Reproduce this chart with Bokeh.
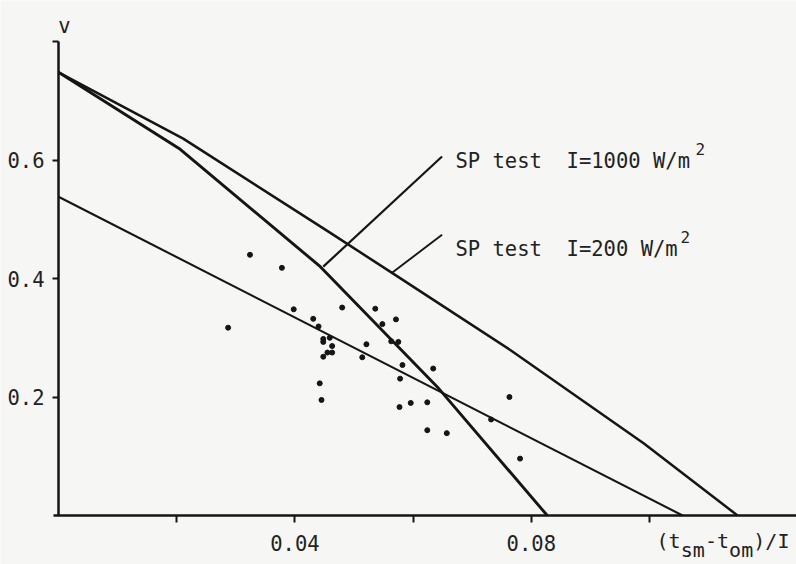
from bokeh.plotting import figure
from bokeh.models import Range1d, FixedTicker, Label
from bokeh.embed import file_html
from bokeh.resources import INLINE

# ---------------- data ----------------
# SP test I=1000 W/m2 curve
sp1000_x = [0.0, 0.0206, 0.0443, 0.0641, 0.0827]
sp1000_y = [0.748, 0.618, 0.420, 0.217, 0.0]
# SP test I=200 W/m2 curve
sp200_x = [0.0, 0.0211, 0.0460, 0.0565, 0.0765, 0.0990, 0.1149]
sp200_y = [0.748, 0.636, 0.477, 0.409, 0.279, 0.122, 0.0]
# fitted line through measured points
fit_x = [0.0, 0.1056]
fit_y = [0.538, 0.0]
# measured points
pts_x = [0.0324, 0.0378, 0.0398, 0.0431, 0.0440, 0.0287, 0.0480, 0.0448, 0.0448,
         0.0459, 0.0463, 0.0455, 0.0463, 0.0448, 0.0442, 0.0445, 0.0536, 0.0571,
         0.0548, 0.0521, 0.0563, 0.0575, 0.0514, 0.0582, 0.0634, 0.0578, 0.0577,
         0.0596, 0.0624, 0.0624, 0.0657, 0.0763, 0.0732, 0.0781]
pts_y = [0.440, 0.418, 0.348, 0.332, 0.319, 0.317, 0.351, 0.298, 0.293,
         0.300, 0.286, 0.275, 0.275, 0.268, 0.223, 0.195, 0.349, 0.331,
         0.323, 0.289, 0.294, 0.293, 0.267, 0.254, 0.248, 0.231, 0.183,
         0.190, 0.191, 0.144, 0.139, 0.200, 0.162, 0.096]
# leader lines of the annotations
lead1000_x = [0.0448, 0.0649]
lead1000_y = [0.420, 0.606]
lead200_x = [0.0565, 0.0649]
lead200_y = [0.410, 0.474]

x_major = [0.04, 0.08]
x_minor = [0.02, 0.06, 0.10]
y_major = [0.2, 0.4, 0.6]
y_minor = [0.8]

NB = "\u00a0"
label1000 = "SP test" + NB + NB + "I=1000 W/m"
label200 = "SP test" + NB + NB + "I=200 W/m"
sup = "2"
ylabel = "v"
xlabel_parts = ["(t", "sm", "-t", "om", ")/I"]

# ---------------- styling ----------------
BG = "#f6f6f5"
INK = "#151515"
TXT = "#222222"
FONT = "DejaVu Sans Mono"
FS = "20.5px"

W, H = 796, 564
X0, XS = 58.0, 5910.0      # page x of value 0, pixels per unit
Y0, YS = 515.0, 592.5      # page y of value 0, pixels per unit

p = figure(width=W, height=H, output_backend="svg", toolbar_location=None,
           x_range=Range1d(-X0 / XS, (W - X0) / XS),
           y_range=Range1d(-(H - Y0) / YS, Y0 / YS),
           min_border=0, min_border_left=0, min_border_right=0,
           min_border_top=0, min_border_bottom=0,
           background_fill_color=BG, border_fill_color=BG,
           outline_line_color=None)
p.grid.visible = False

for ax in (p.xaxis[0], p.yaxis[0]):
    ax.fixed_location = 0
    ax.axis_line_color = INK
    ax.axis_line_width = 2.5
    ax.major_tick_line_color = INK
    ax.minor_tick_line_color = INK
    ax.major_tick_line_width = 2
    ax.minor_tick_line_width = 2
    ax.major_tick_in = 0
    ax.minor_tick_in = 0
    ax.major_label_text_font = FONT
    ax.major_label_text_font_size = FS
    ax.major_label_text_color = TXT

p.xaxis.ticker = FixedTicker(ticks=x_major, minor_ticks=x_minor)
p.xaxis.major_tick_out = 7
p.xaxis.minor_tick_out = 7
p.xaxis.major_label_standoff = 12
p.xaxis.bounds = (-5 / XS, (W - X0) / XS)

p.yaxis.ticker = FixedTicker(ticks=y_major, minor_ticks=y_minor)
p.yaxis.major_tick_out = 6
p.yaxis.minor_tick_out = 6
p.yaxis.major_label_standoff = 8
p.yaxis.bounds = (0, 0.8)

# curves
p.line(sp1000_x, sp1000_y, line_color=INK, line_width=2.9)
p.line(sp200_x, sp200_y, line_color=INK, line_width=2.5)
p.line(fit_x, fit_y, line_color=INK, line_width=2.1)
p.line(lead1000_x, lead1000_y, line_color=INK, line_width=2.2)
p.line(lead200_x, lead200_y, line_color=INK, line_width=1.9)
p.scatter(pts_x, pts_y, size=5, color=INK)

# mapping helpers for annotation placement (page pixels -> data)
def dx(px):
    return (px - X0) / XS

def dy(py):
    return (Y0 - py) / YS

def lab(x, y, t, size=FS, align="left"):
    p.add_layout(Label(x=x, y=y, text=t, text_font=FONT, text_font_size=size,
                       text_color=TXT, text_align=align,
                       text_baseline="alphabetic"))

lab(dx(455), dy(160.5), label1000)
lab(dx(695), dy(148), sup, size="16px")
lab(dx(455), dy(248.3), label200)
lab(dx(680), dy(236.7), sup, size="16px")

lab(dx(64), dy(25), ylabel, align="center")

adv = 12.1
x_start = 656
starts = [x_start + k * 2 * adv for k in range(5)]
for i, t in enumerate(xlabel_parts):
    sub = (i % 2 == 1)
    lab(dx(starts[i]), dy(549 if sub else 540), t, size="20px")

open("out.html", "w").write(file_html(p, INLINE))
